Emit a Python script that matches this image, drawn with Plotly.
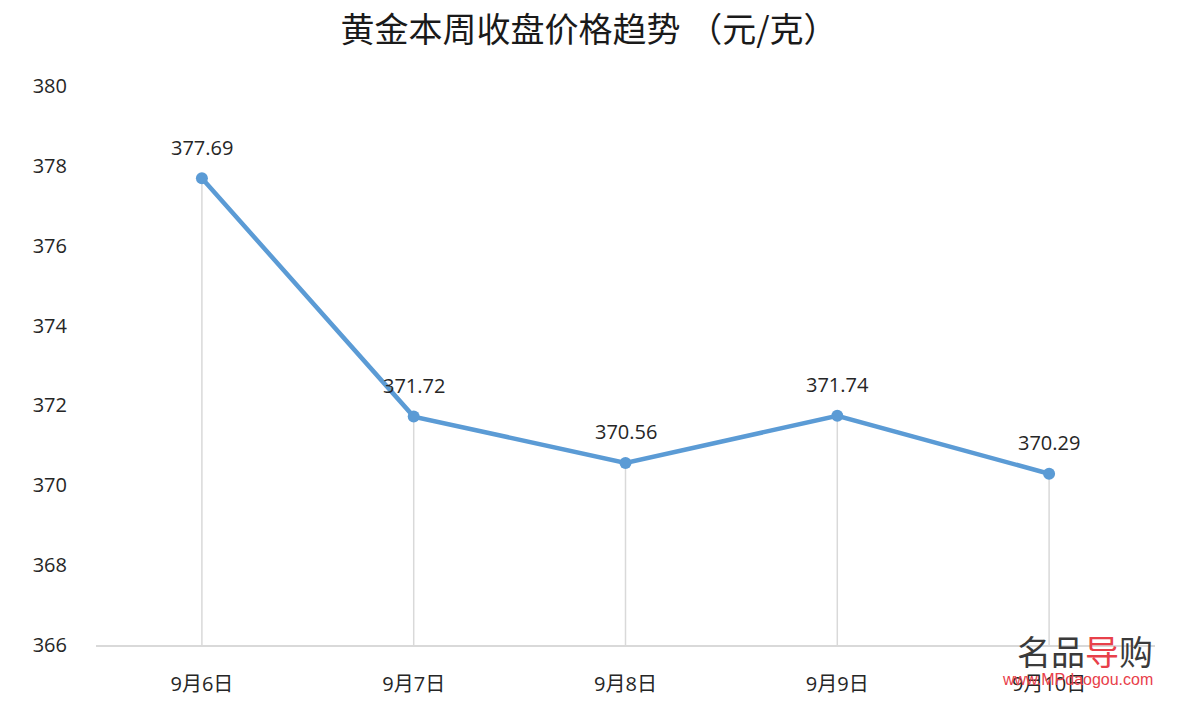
import plotly.graph_objects as go

categories = ["9月6日", "9月7日", "9月8日", "9月9日", "9月10日"]
prices = [377.69, 371.72, 370.56, 371.74, 370.29]
y_ticks = [366, 368, 370, 372, 374, 376, 378, 380]
y_base = 366

cjk_font = "Noto Sans CJK SC, Microsoft YaHei, sans-serif"
num_font = "Open Sans, Noto Sans CJK SC, sans-serif"

# drop lines built from the data
drop_x, drop_y = [], []
for c, v in zip(categories, prices):
    drop_x += [c, c, None]
    drop_y += [y_base, v, None]

fig = go.Figure()
fig.add_trace(go.Scatter(x=drop_x, y=drop_y, mode="lines",
                         line=dict(color="#D9D9D9", width=1.5),
                         hoverinfo="skip", showlegend=False))
fig.add_trace(go.Scatter(x=categories, y=prices, mode="lines+markers",
                         line=dict(color="#5B9BD5", width=4.5),
                         marker=dict(color="#5B9BD5", size=12),
                         showlegend=False))

for c, v in zip(categories, prices):
    fig.add_annotation(x=c, y=v, text=f"{v:.2f}", showarrow=False,
                       yshift=31, font=dict(size=20, color="#262626", family=num_font))

# watermark
fig.add_annotation(xref="paper", yref="paper", x=1.0, y=-0.01, xanchor="right", yanchor="middle",
                   text="名品<span style='color:#E8404A'>导</span>购", showarrow=False,
                   font=dict(size=34, color="#3A3A3A", family=cjk_font))
fig.add_annotation(xref="paper", yref="paper", x=1.0, y=-0.062, xanchor="right", yanchor="middle",
                   text="www.MPdaogou.com", showarrow=False,
                   font=dict(size=16, color="#E8404A", family="Arial, Liberation Sans, sans-serif"))

fig.update_layout(
    width=1178, height=709,
    margin=dict(l=96, r=23, t=86, b=55),
    paper_bgcolor="white", plot_bgcolor="white",
    title=dict(text="黄金本周收盘价格趋势 （元/克）", x=0.5, xanchor="center", y=0.958, yanchor="middle",
               font=dict(size=34, color="#1a1a1a", family=cjk_font)),
    font=dict(family=num_font, color="#262626"),
    xaxis=dict(type="category", categoryorder="array", categoryarray=categories,
               showgrid=False, zeroline=False, showline=True, linecolor="#D9D9D9", linewidth=2,
               ticks="", tickfont=dict(size=20, color="#262626", family=num_font), ticklabelstandoff=20,
               range=[-0.5, len(categories) - 0.5]),
    yaxis=dict(range=[366, 380], tickvals=y_ticks, showgrid=False, zeroline=False,
               showline=False, ticks="", tickfont=dict(size=20, color="#262626", family=num_font),
               ticklabelstandoff=28),
)

fig.write_html("out.html", config={"displayModeBar": False},
               post_script="document.body.style.margin='0';")
